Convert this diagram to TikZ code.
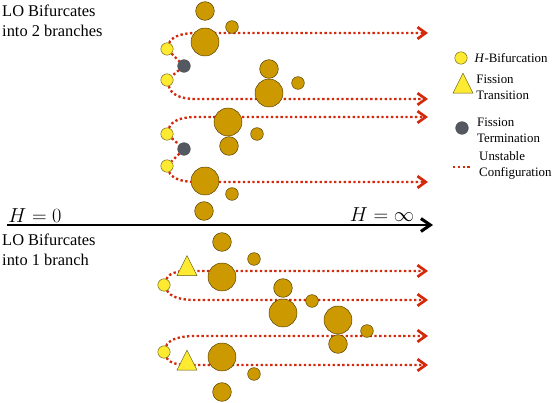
\documentclass[tikz,border=0pt]{standalone}
\usepackage[no-math]{fontspec}
\setmainfont{Liberation Serif}
\usetikzlibrary{arrows.meta,shapes.geometric,positioning}
\definecolor{gold}{RGB}{204,153,0}
\definecolor{bifyellow}{RGB}{255,234,50}
\definecolor{termgray}{RGB}{84,88,96}
\definecolor{unstred}{RGB}{212,42,12}
\pgfdeclarelayer{bg}
\pgfsetlayers{bg,main}

\begin{document}
\begin{tikzpicture}[x=0.03cm,y=-0.03cm,
  frag/.style={draw=black!60!gold, line width=0.4pt, circle, fill=gold, inner sep=0},
  bigfrag/.style={frag, minimum size=0.84cm},
  midfrag/.style={frag, minimum size=0.56cm},
  smallfrag/.style={frag, minimum size=0.38cm},
  hbif/.style={draw=black!60!bifyellow, line width=0.4pt, circle, fill=bifyellow, inner sep=0, minimum size=0.37cm},
  fterm/.style={draw=black!70, line width=0.4pt, circle, fill=termgray, inner sep=0, minimum size=0.38cm},
  ftrans/.style={draw=black!60!bifyellow, line width=0.4pt, isosceles triangle, shape border rotate=90,
    isosceles triangle stretches, fill=bifyellow, inner sep=0, minimum width=0.6cm, minimum height=0.6cm},
  unstable/.style={draw=unstred, line width=2pt, dash pattern=on 2pt off 2.1pt},
  axis/.style={line width=2.5pt, -{Straight Barb[length=8pt,width=11pt,line width=2.6pt]}},
  title/.style={align=left, inner sep=0, anchor=north west, font=\fontsize{14}{17}\selectfont},
  legend/.style={align=left, inner sep=0, font=\fontsize{11}{13.5}\selectfont}]
\useasboundingbox (0,0) rectangle (553,403);

% titles
\node[title] (top) at (2,4.5) {LO Bifurcates\\into 2 branches};
\node[title] (bottom) at (2,233.5) {LO Bifurcates\\into 1 branch};

% H axis
\coordinate (ax0) at (7,225);
\coordinate (ax1) at (433,225);
\draw[axis] (ax0) -- (ax1);
\node[font=\fontsize{16}{18}\selectfont, inner sep=0] (h0) at (35,216) {$H=0$};
\node[font=\fontsize{16}{18}\selectfont, inner sep=0] (hinf) at (382,215) {$H=\infty$};

% bifurcation points, terminations, transitions
\node[hbif] (y1) at (167,49) {};
\node[fterm] (d1) at (184,66) {};
\node[hbif] (y2) at (167,80) {};
\node[hbif] (y3) at (167,134) {};
\node[fterm] (d2) at (184,149) {};
\node[hbif] (y4) at (167,166) {};
\node[hbif] (b1) at (164,285) {};
\node[ftrans] (t1) at (187,269.5) {};
\node[hbif] (b2) at (164,352) {};
\node[ftrans] (t2) at (187,364) {};

% arrow ends
\coordinate (e1) at (428,33);
\coordinate (e2) at (428,99);
\coordinate (e3) at (428,117);
\coordinate (e4) at (428,182);
\coordinate (e5) at (428,271);
\coordinate (e6) at (428,300);
\coordinate (e7) at (428,336);
\coordinate (e8) at (428,365);

% fragments, 2 branches
\node[midfrag] (f1) at (205,11) {};
\node[smallfrag] (f2) at (232,27) {};
\node[bigfrag] (f3) at (205,42) {};
\node[midfrag] (f4) at (269,69) {};
\node[bigfrag] (f5) at (269,93) {};
\node[smallfrag] (f6) at (298,83) {};
\node[bigfrag] (f7) at (228,122) {};
\node[smallfrag] (f8) at (257,134) {};
\node[midfrag] (f9) at (229,146) {};
\node[bigfrag] (f10) at (205,181) {};
\node[smallfrag] (f11) at (232,194) {};
\node[midfrag] (f12) at (204,211) {};

% fragments, 1 branch
\node[midfrag] (g1) at (222,242) {};
\node[smallfrag] (g2) at (254,259) {};
\node[bigfrag] (g3) at (222,277) {};
\node[midfrag] (g4) at (283,288) {};
\node[smallfrag] (g5) at (312,301) {};
\node[bigfrag] (g6) at (283,313) {};
\node[bigfrag] (g7) at (338,320) {};
\node[smallfrag] (g8) at (367,331) {};
\node[midfrag] (g9) at (338,344) {};
\node[bigfrag] (g10) at (222,357) {};
\node[smallfrag] (g11) at (254,374) {};
\node[midfrag] (g12) at (222,392) {};

\begin{pgfonlayer}{bg}
  \tikzset{every path/.append style={-{Straight Barb[length=7pt,width=10pt,line width=2.3pt]}}}
  \draw[unstable] (y1) .. controls (171,38) and (179,33) .. (196,33) -- (e1);
  \draw[unstable, -] (y1) -- (d1) -- (y2);
  \draw[unstable] (y2) .. controls (171,94) and (179,99) .. (196,99) -- (e2);
  \draw[unstable] (y3) .. controls (171,122) and (179,117) .. (196,117) -- (e3);
  \draw[unstable, -] (y3) -- (d2) -- (y4);
  \draw[unstable] (y4) .. controls (171,177) and (179,182) .. (196,182) -- (e4);
  \draw[unstable] (b1) .. controls (168,275) and (174,271) .. (t1.center |- e5) -- (e5);
  \draw[unstable] (b1) .. controls (170,296) and (178,300) .. (196,300) -- (e6);
  \draw[unstable] (b2) .. controls (168,341) and (176,336) .. (196,336) -- (e7);
  \draw[unstable] (b2) .. controls (168,361) and (174,365) .. (t2.center |- e8) -- (e8);
\end{pgfonlayer}

% legend
\node[hbif] (lbif) at (461,58) {};
\node[legend, right=0.21cm of lbif] (lbiftxt) {\textit{H}-Bifurcation};
\node[ftrans] (ltrans) at (463,87) {};
\node[legend, right=0.18cm of ltrans] (ltranstxt) {Fission\\Transition};
\node[fterm] (lterm) at (462,128) {};
\node[legend, right=0.25cm of lterm, yshift=-0.06cm] (ltermtxt) {Fission\\Termination};
\coordinate (lu0) at (453,167);
\coordinate (lu1) at (472,167);
\draw[unstable] (lu0) -- (lu1);
\node[legend, right=0.21cm of lu1, yshift=0.05cm] (lunsttxt) {Unstable\\Configuration};
\end{tikzpicture}
\end{document}
